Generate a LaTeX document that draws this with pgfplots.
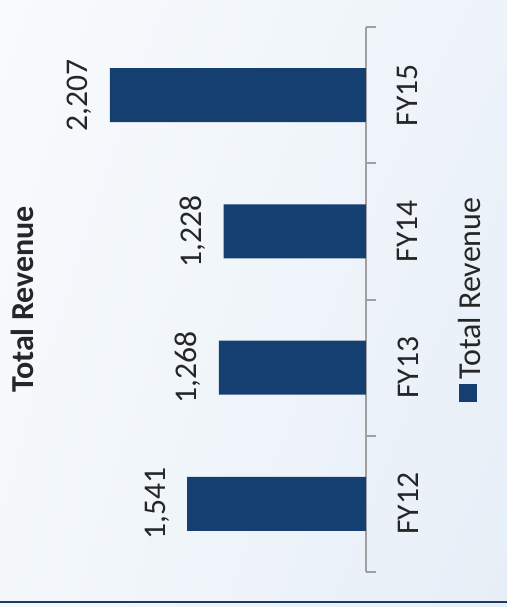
\documentclass[border=0pt]{standalone}
\usepackage{pgfplots}
\pgfplotsset{compat=1.18}
\usetikzlibrary{shadings}
\usepackage{fontspec}
\setmainfont{Carlito}
\definecolor{barblue}{HTML}{153F70}
\definecolor{navyline}{HTML}{1E3A62}
\definecolor{axisgray}{HTML}{A0A0A0}
\definecolor{txt}{HTML}{262626}
\definecolor{bgA}{HTML}{F8FBFD}
\definecolor{bgB}{HTML}{EDF3F9}
\definecolor{bgC}{HTML}{F4F8FB}
\definecolor{bgD}{HTML}{E6EEF7}

\begin{document}
\begin{tikzpicture}
\begin{scope}[rotate=90, transform shape]
% background, drawn in the unrotated frame (607 x 507 px, 1px = 0.5pt)
\shade[upper left=bgA, upper right=bgB, lower left=bgC, lower right=bgD]
  (0,0) rectangle (303.5pt,253.5pt);
\draw[navyline, line width=1.2pt] (2.5pt,0) -- (2.5pt,253.5pt);

\begin{axis}[
    scale only axis,
    width=272.5pt, height=145pt,
    at={(17.5pt,70.5pt)}, anchor=south west,
    ybar, bar width=27pt,
    xmin=-0.5, xmax=3.5, ymin=0, ymax=2500,
    axis x line*=bottom, axis y line=none,
    x axis line style={axisgray, line width=1pt},
    xtick={0,1,2,3},
    xticklabels={FY12,FY13,FY14,FY15},
    major x tick style={draw=none},
    minor xtick={-0.5,0.5,1.5,2.5,3.5},
    minor x tick style={axisgray, line width=1pt},
    minor tick length=5pt,
    tick align=outside,
    xticklabel style={font=\fontsize{15.8}{18}\selectfont, text=txt, yshift=-8pt},
    /pgf/number format/.cd, 1000 sep={,}, assume math mode=true,
    /pgfplots/.cd,
    nodes near coords,
    nodes near coords style={font=\fontsize{15.8}{18}\selectfont, text=txt, yshift=5.5pt},
    title={Total Revenue},
    title style={at={(0.5,1)}, anchor=base, yshift=15.5pt,
      font=\bfseries\fontsize{16}{18}\selectfont, text=txt},
    legend style={at={(0.5,0)}, anchor=center, yshift=-52.5pt, xshift=1pt,
      draw=none, fill=none, font=\fontsize{16}{18}\selectfont, text=txt},
    legend image code/.code={\fill[barblue] (0pt,-3pt) rectangle (9pt,6pt);},
]
\addplot[fill=barblue, draw=none] coordinates {(0,1541) (1,1268) (2,1228) (3,2207)};
\legend{Total Revenue}
\end{axis}
\pgfresetboundingbox
\path[use as bounding box] (0,0) rectangle (303.5pt,253.5pt);
\end{scope}
\end{tikzpicture}
\end{document}
